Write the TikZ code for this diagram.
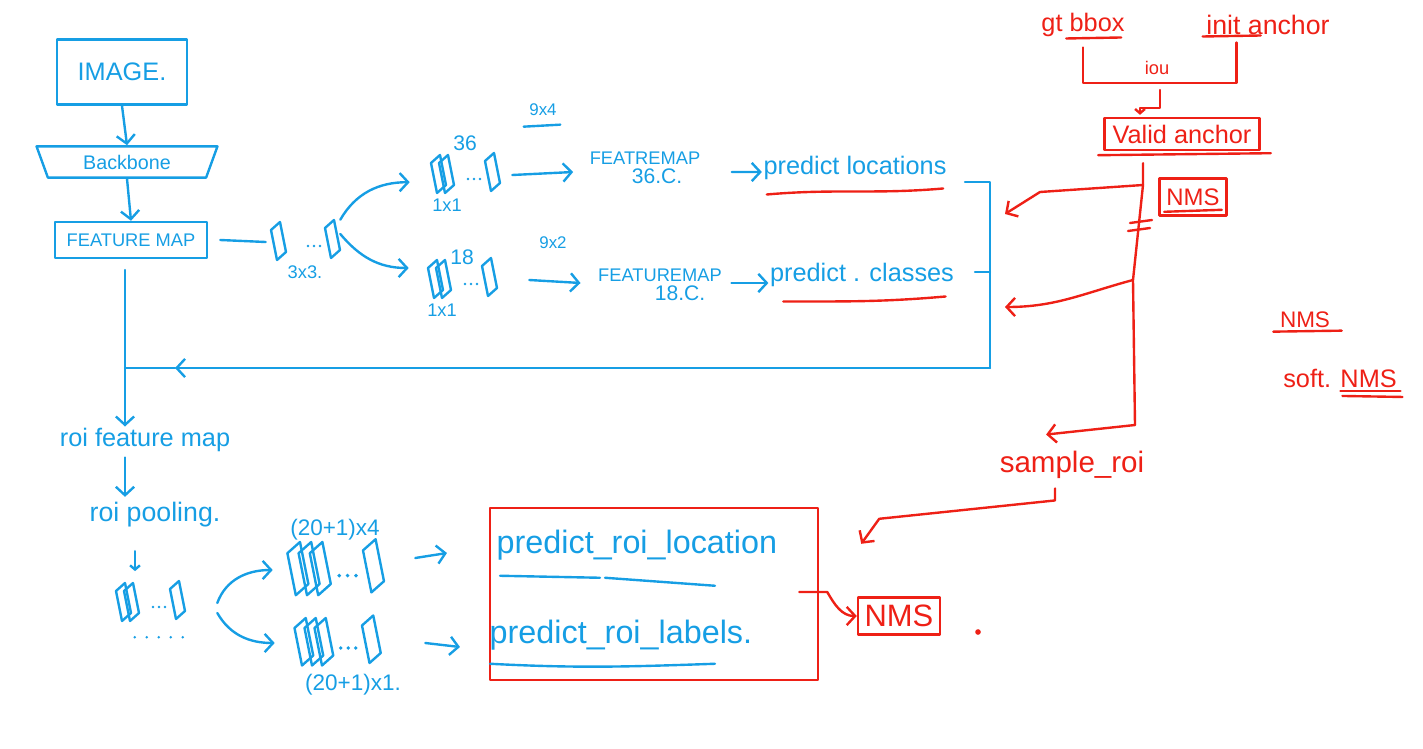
\documentclass[tikz,border=0pt]{standalone}
\usepackage{fontspec}
\setmainfont{Liberation Sans}
\usetikzlibrary{arrows.meta,positioning,shapes.geometric,calc}
\definecolor{penblue}{RGB}{22,158,228}
\definecolor{penred}{RGB}{238,32,22}
\newcommand{\fsz}[1]{\fontsize{#1}{#1}\selectfont}
\tikzset{
  bpen/.style={draw=penblue,line width=1.7pt,line cap=round,line join=round},
  rpen/.style={draw=penred,line width=1.7pt,line cap=round,line join=round},
  barb/.style={-{Straight Barb[length=6pt,width=13pt]}},
  smallbarb/.style={-{Straight Barb[length=3pt,width=7pt]}},
  btext/.style={text=penblue,inner sep=1pt,font=\fsz{#1}},
  rtext/.style={text=penred,inner sep=1pt,font=\fsz{#1}},
  stackbox/.style={inner sep=0pt,minimum width=1.75cm,minimum height=1.1cm},
  pics/stack/.style={code={
    \foreach \k in {1,...,#1}
      \draw[bpen] ({-42+8*\k},-12) -- ++(9,-8) -- ++(6,30) -- ++(-9,8) -- cycle;
    \foreach \d in {3,9,15}
      \fill[penblue] (\d,4) circle (1pt);
    \draw[bpen] (20,-14) -- ++(9,-8) -- ++(6,30) -- ++(-9,8) -- cycle;
  }}
}
\begin{document}
\begin{tikzpicture}[x=0.025cm,y=-0.025cm]
\useasboundingbox (0,0) rectangle (1423,749);

% backbone column
\node[bpen,btext=18,minimum width=3.25cm,minimum height=1.63cm] (image) at (122,72) {IMAGE.};
\node[bpen,btext=14,trapezium,shape border rotate=180,trapezium left angle=70,
      trapezium right angle=70,minimum height=0.78cm,inner xsep=0pt] (backbone) at (127,162) {Backbone};
\node[bpen,btext=13,minimum width=3.8cm,minimum height=0.9cm] (fmap) at (131,240) {FEATURE MAP};
\draw[bpen,barb] (image.south) -- (backbone.north);
\draw[bpen,barb] (backbone.south) -- (fmap.north);

% rpn heads
\node[stackbox] (s33) at (305,242) {};
\pic at (s33) {stack=1};
\node[btext=13,below=0pt of s33] (k33) {3x3.};
\draw[bpen] ([xshift=0.3cm]fmap.east) -- ([xshift=-0.1cm]s33.west);

\node[stackbox] (s36) at (465,175) {};
\pic at (s36) {stack=2};
\node[btext=15,above=0pt of s36] (k36) {36};
\node[btext=13,below=0pt of s36,xshift=-0.45cm] (k36b) {1x1};

\node[stackbox] (s18) at (462,280) {};
\pic at (s18) {stack=2};
\node[btext=15,above=-6pt of s18] (k18) {18};
\node[btext=13,below=0pt of s18,xshift=-0.5cm] (k18b) {1x1};

\draw[bpen,barb] (s33.north east) to[out=60,in=180] ([xshift=-0.5cm,yshift=-0.18cm]s36.west);
\draw[bpen,barb] ([yshift=0.2cm]s33.east) to[out=-50,in=180] ([xshift=-0.45cm,yshift=0.3cm]s18.west);

% locations branch
\node[btext=13] (feat36) at (645,158) {FEATREMAP};
\node[btext=15,below=1pt of feat36,xshift=0.3cm] (c36) {36.C.};
\node[btext=12] (k94) at (543,110) {9x4};
\draw[bpen] ($(k94.south west)+(-4,9)$) -- ($(k94.south east)+(2,7)$);
\draw[bpen,barb] ([xshift=0.3cm]s36.east) -- ([xshift=-0.375cm,yshift=-0.35cm]feat36.west);
\node[btext=18] (loc) at (855,168) {predict locations};
\draw[bpen,barb] ([xshift=0.75cm,yshift=-0.35cm]feat36.east) -- ([yshift=-0.1cm]loc.west);
\draw[rpen] ($(loc.south west)+(5,13)$) to[out=5,in=185] ($(loc.south east)+(-5,7)$);

% classes branch
\node[btext=12] (k92) at (553,243) {9x2};
\node[btext=13] (feat18) at (660,275) {FEATUREMAP};
\node[btext=15,below=1pt of feat18,xshift=0.5cm] (c18) {18.C.};
\draw[bpen,barb] ([xshift=0.8cm]s18.east) -- ([xshift=-0.4cm,yshift=-0.2cm]feat18.west);
\node[btext=18] (cls) at (862,275) {predict . classes};
\draw[bpen,barb] ([xshift=0.2cm,yshift=-0.2cm]feat18.east) -- ([yshift=-0.2cm]cls.west);
\draw[rpen] ($(cls.south west)+(15,13)$) to[out=0,in=185] ($(cls.south east)+(-10,8)$);

% bracket back to the feature map
\coordinate (bt) at (990,182);
\coordinate (bm) at (990,272);
\coordinate (bb) at (990,368);
\coordinate (drop) at (125,258);
\coordinate (join) at (drop |- bb);
\coordinate (mid) at ($(join)+(50,0)$);
\draw[bpen] ($(bt)+(-25,0)$) -- (bt) -- (bb);
\draw[bpen] ($(bm)+(-15,0)$) -- (bm);
\draw[bpen,barb] (bb) -- (mid);
\draw[bpen] (mid) -- (join);

% roi head
\node[btext=18] (roifm) at (145,440) {roi feature map};
\node[btext=19] (roipool) at (155,515) {roi pooling.};
\draw[bpen,barb] ([yshift=-0.3cm]drop) -- (drop |- roifm.north);
\draw[bpen,barb] ([yshift=-0.1cm]drop |- roifm.south) -- ([yshift=0.1cm]drop |- roipool.north);
\node[stackbox] (spool) at (150,603) {};
\pic at (spool) {stack=2};
\foreach \d in {0,...,4}
  \fill[penblue] ($(spool.south west)+(20+12*\d,12)$) circle (1pt);
\draw[bpen,smallbarb] ($(roipool.south)+(-20,22)$) -- ++(0,20);

\node[stackbox,minimum width=2.5cm,minimum height=1.4cm] (s4) at (335,570) {};
\pic[scale=1.4] at (s4) {stack=3};
\node[btext=16,above=0pt of s4] (k4) {(20+1)x4};
\node[stackbox,minimum width=2.5cm,minimum height=1.3cm] (s1) at (337,643) {};
\pic[scale=1.25] at (s1) {stack=3};
\node[btext=16,below=2pt of s1,xshift=0.4cm] (k1) {(20+1)x1.};
\draw[bpen,barb] ([xshift=0.8cm]spool.east) to[out=70,in=180] ([xshift=-0.3cm]s4.west);
\draw[bpen,barb] ([xshift=0.8cm,yshift=-0.25cm]spool.east) to[out=-60,in=180] ([xshift=-0.3cm]s1.west);

% roi outputs
\node[rpen,minimum width=8.2cm,minimum height=4.3cm] (roibox) at (654,594) {};
\node[btext=23,anchor=west] (rloc) at (495,545) {predict\_roi\_location};
\node[btext=23,anchor=west] (rlab) at (488,635) {predict\_roi\_labels.};
\draw[bpen] ($(rloc.south west)+(5,14)$) -- ++(100,2);
\draw[bpen] ($(rloc.south west)+(110,16)$) -- ++(110,8);
\draw[bpen] ($(rlab.south west)+(2,12)$) to[out=-3,in=182] ++(225,0);
\draw[bpen,barb] ([xshift=0.75cm,yshift=0.3cm]s4.east) -- ([xshift=-1.2cm,yshift=-0.2cm]rloc.west);
\draw[bpen,barb] ([xshift=0.95cm]s1.east) -- ([xshift=-0.7cm,yshift=-0.3cm]rlab.west);

\node[rpen,rtext=22,minimum width=2.05cm,minimum height=0.93cm] (nms2) at (899,616) {NMS};
\draw[rpen,barb] ($(roibox.east)+(-20,-2)$) -- ++(28,0) to[out=-60,in=180] (nms2.west);
\fill[penred] (978,632) circle (2pt);

% anchor target side
\node[rtext=18] (gt) at (1083,25) {gt bbox};
\node[rtext=19] (init) at (1268,25) {init anchor};
\draw[rpen] ($(gt.south east)+(-60,0)$) -- ++(55,-1);
\draw[rpen] ($(init.south west)+(-2,0)$) -- ++(58,-1);
\coordinate (ioub) at (1160,83);
\draw[rpen] ($(gt.south)+(0,9)$) |- (ioub) -| ($(init.south west)+(32,6)$);
\node[rtext=13] (iou) at (1157,68) {iou};
\node[rpen,rtext=18,minimum width=3.88cm,minimum height=0.8cm] (valid) at (1182,134) {Valid anchor};
\draw[rpen] ($(valid.south west)+(-5,4)$) -- ($(valid.south east)+(10,2)$);
\draw[rpen,smallbarb] ($(ioub)+(0,7)$) -- ++(0,18) -| ($(valid.north)+(-42,-2)$);

\coordinate (sp0) at ($(valid.south)+(-39,12)$);
\coordinate (sp1) at (1143,185);
\coordinate (sp2) at (1133,280);
\coordinate (sp3) at (1135,425);
\draw[rpen] (sp0) -- (sp1) -- (sp2) -- (sp3);
\draw[rpen] ($(sp1)+(-13,38)$) -- ++(22,-3);
\draw[rpen] ($(sp1)+(-15,46)$) -- ++(22,-3);
\node[rpen,rtext=17,minimum width=1.68cm,minimum height=0.93cm] (nms1) at (1193,197) {NMS};
\draw[rpen] ($(nms1.south west)+(6,-5)$) -- ($(nms1.south east)+(-6,-7)$);
\draw[rpen,barb] (sp1) -- ($(bt)+(50,10)$) -- ($(bt)+(15,32)$);
\draw[rpen,barb] (sp2) to[out=195,in=0] ($(bm)+(15,35)$);

\node[rtext=21] (sample) at (1072,465) {sample\_roi};
\draw[rpen,barb] (sp3) -- ($(sample.north west)+(48,-15)$);
\draw[rpen,barb] ($(sample.south)+(-17,8)$) -- ++(0,12) -- ($(roibox.north east)+(60,12)$) -- ($(roibox.north east)+(42,37)$);

% notes
\node[rtext=16] (nmsnote) at (1305,320) {NMS};
\draw[rpen] ($(nmsnote.south west)+(-5,2)$) -- ($(nmsnote.south east)+(10,1)$);
\node[rtext=18] (soft) at (1340,378) {soft. NMS};
\draw[rpen] ($(soft.south east)+(-58,2)$) -- ++(60,0);
\draw[rpen] ($(soft.south east)+(-56,7)$) -- ++(60,1);
\end{tikzpicture}
\end{document}
